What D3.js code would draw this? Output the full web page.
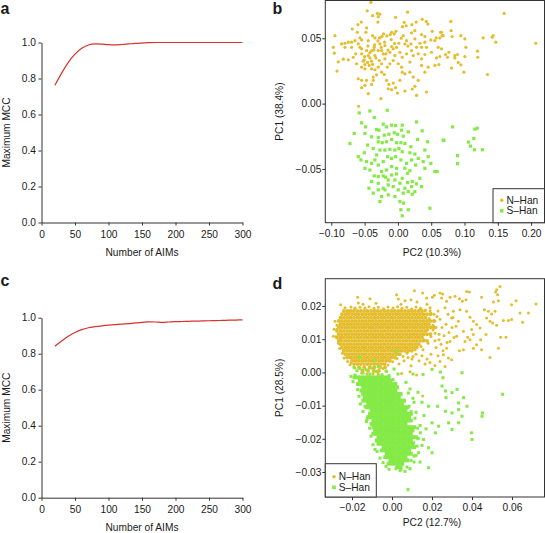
<!DOCTYPE html>
<html><head><meta charset="utf-8">
<script src="https://cdn.jsdelivr.net/npm/d3@7"></script>
<style>
body{margin:0;background:#fff}
svg{display:block}
text{font-family:"Liberation Sans",Arial,Helvetica,sans-serif;fill:#1a1a1a}
</style>
</head><body>
<svg id="c" width="545" height="533"></svg>
<script>
// ---------------- DATA ----------------
const groups = ["N\u2013Han", "S\u2013Han"];
const mccAims = [20,30,40,50,60,70,80,90,100,110,120,130,140,150,160,170,180,190,200,210,220,230,240,250,260,270,280,290,300];
const mccA = [.762,.83,.89,.935,.968,.986,.992,.991,.988,.987,.989,.992,.995,.997,.999,1,1,1,1,1,1,1,1,1,1,1,1,1,1];
const mccC = [.841,.87,.897,.918,.934,.944,.95,.955,.959,.962,.964,.967,.971,.974,.977,.976,.974,.976,.978,.979,.98,.981,.982,.983,.984,.985,.986,.987,.988];
const mccTicksX = [0,50,100,150,200,250,300];
const mccTicksY = [0,0.2,0.4,0.6,0.8,1.0];

const bTicksX = [-0.10,-0.05,0.00,0.05,0.10,0.15,0.20];
const bTicksY = [-0.05,0.00,0.05];
const dTicksX = [-0.02,0.00,0.02,0.04,0.06];
const dTicksY = [-0.03,-0.02,-0.01,0.00,0.01,0.02];

// panel b: [PC2, PC1]
const bNHan = [
[-.046,.071],[-.031,.069],[-.027,.0685],[-.0295,.0665],[-.038,.0673],[-.0035,.066],[.0145,.070],[-.030,.0624],[-.055,.0624],[-.060,.0604],[-.0685,.0571],[-.047,.0579],[-.061,.0546],[-.048,.0546],[.0095,.0622],[.0125,.0596],[.007,.0589],[.021,.0604],[.0275,.0624],[.0365,.0645],[.0425,.0629],[.045,.0609],[.0515,.0553],[.064,.0546],[.0665,.052],[.0575,.0503],[.0355,.0528],[.0405,.0513],[.0205,.0541],[.0255,.0558],[-.003,.0553],[-.0095,.0546],[-.0055,.0533],[-.0115,.0528],[-.0165,.0518],[-.0215,.0533],[-.024,.0513],[-.0275,.0503],[-.0345,.0503],[-.038,.052],[-.0445,.0482],[-.0545,.0487],[-.057,.0503],[-.0645,.0482],[-.0695,.047],[-.0745,.047],[-.0795,.0462],[-.0845,.0457],[-.0945,.052],[-.097,.0431],[-.0955,.0386],[-.0895,.032],[-.0915,.0249],[-.082,.034],[-.0745,.0335],[-.0795,.0431],[-.0695,.0431],[-.0595,.0457],[-.057,.0431],[-.0635,.0381],[-.067,.0355],[-.0545,.0381],[-.0505,.0335],[-.0455,.0315],[-.0395,.0325],[-.042,.035],[-.0345,.0368],[-.0295,.0406],[-.0355,.0431],[-.027,.0457],[-.0195,.0444],[-.0095,.0437],[-.002,.0431],[.0015,.0462],[.0105,.0457],[.013,.0482],[.0195,.0457],[.0255,.0495],[.033,.0462],[.0405,.047],[.0495,.0487],[.0555,.0482],[.0605,.0431],[.0505,.0393],[.0405,.0376],[.0355,.0343],[.0305,.0381],[.023,.0368],[.013,.0381],[.0065,.0355],[-.0045,.0368],[-.007,.033],[-.012,.0305],[-.0195,.0343],[-.0245,.0305],[-.0295,.0279],[-.0245,.0241],[-.0205,.0223],[-.0345,.0259],[-.0395,.0266],[-.0495,.0266],[-.0545,.0279],[-.062,.0305],[-.0595,.019],[-.0545,.0178],[-.047,.0178],[-.037,.0178],[-.0395,.0147],[-.0495,.014],[-.0545,.0122],[-.0445,.0076],[-.037,.0203],[-.017,.0178],[-.0135,.0147],[-.007,.0157],[-.0035,.0122],[.003,.0178],[.0065,.0241],[.0105,.0228],[.018,.0241],[.023,.0203],[.0305,.0178],[.0255,.0132],[.0215,.0112],[.0105,.0096],[-.0005,.0081],[-.0095,.0107],[-.0145,.0114],[-.0255,.0038],[.028,.0063],[.043,.0089],[.0405,.0241],[.0455,.0279],[.0555,.0292],[.063,.036],[.0655,.0419],[.0355,.0292],[.018,.0318],[.0055,.0279],[.0005,.0305],[-.0545,.0419],[-.047,.0406],[-.0395,.0406],[-.0445,.0368],[-.052,.0325],[-.0495,.0299],[-.043,.0292],[-.0245,.0406],[-.018,.0381],[-.012,.0393],[-.007,.0419],[.003,.0393],[.0205,.0406],[.028,.0431],[.0355,.0431],[.043,.0431],
[-.035,.045],[-.03,.048],[-.025,.043],[-.042,.039],[-.033,.035],[-.028,.033],[-.038,.030],[-.02,.047],[-.015,.041],[-.01,.049],[-.005,.046],[.005,.05],[-.045,.044],[-.05,.036],[-.016,.028],[-.032,.022],[.015,.044],[.008,.052],[-.022,.038],[-.036,.041],
[.0795,.0629],[.080,.0558],[.0655,.0546],[.068,.052],[.063,.0503],[.0815,.0513],[.0945,.052],[.1005,.0495],[.128,.0503],[.1415,.0508],[.143,.052],[.147,.047],[.1595,.069],[.207,.0462],[.102,.0431],[.1195,.0401],[.12,.0355],[.1005,.036],[.0855,.0368],[.0895,.0376],[.0765,.0393],[.0715,.0376],[.0745,.0355],[.0855,.035],[.058,.035],[.0615,.0299],[.0905,.0315],[.0945,.0297],[.0805,.0272],[.099,.0241],[.1345,.0223],
[-.059,-.002],[-.0405,.0774]
];
const bSHan = [
[-.058,-.0071],[-.042,-.0056],[-.016,-.0051],[-.0355,-.0107],[-.0545,-.0147],[-.0485,-.0178],[-.032,-.0198],[-.0285,-.0203],[-.022,-.0157],[-.017,-.0178],[-.0095,-.0165],[-.0035,-.0168],[.0065,-.0165],[.0055,-.0203],[.028,-.014],[.0365,-.0208],[-.0655,-.0228],[-.0495,-.0228],[-.0395,-.0254],[-.0295,-.0259],[-.0205,-.0241],[-.0135,-.0234],[-.0055,-.0223],[-.0005,-.0234],[.008,-.0249],[.0155,-.0216],[-.072,-.0305],[-.0455,-.0317],[-.0295,-.0292],[-.0235,-.0299],[-.017,-.0292],[-.0095,-.0274],[-.002,-.0299],[.0045,-.0299],[.0105,-.0305],[.0195,-.033],[.0295,-.0274],[.0445,-.0292],[.068,-.0279],[-.0595,-.0406],[-.0505,-.0376],[-.0555,-.0431],[-.037,-.0343],[-.027,-.0355],[-.0195,-.0355],[-.012,-.035],[-.0045,-.0355],[.0015,-.0343],[.0065,-.0368],[.018,-.0376],[.0255,-.0386],[.0305,-.0419],[.038,-.0444],[.0495,-.0457],[.0405,-.0495],[.0555,-.052],[-.0495,-.0495],[-.042,-.0508],[-.0345,-.0431],[-.0295,-.047],[-.022,-.0444],[-.0155,-.0406],[-.0095,-.0419],[-.0035,-.0406],[.0045,-.0431],[.013,-.0457],[.0205,-.0431],[.0265,-.047],[-.0355,-.0553],[-.0295,-.0558],[-.022,-.0553],[-.0185,-.0563],[-.0095,-.0546],[-.002,-.0538],[.0065,-.0571],[.0145,-.0533],[.0215,-.0596],[.028,-.0614],[.0205,-.0635],[.0155,-.0673],[.008,-.0685],[.0005,-.066],[-.007,-.0635],[-.0145,-.0622],[-.022,-.0647],[-.0295,-.0609],[-.0395,-.0596],[-.0435,-.0647],[-.037,-.0685],[-.0245,-.0711],[-.0145,-.0698],[-.0045,-.0711],[.003,-.0749],[.0085,-.0761],[.0045,-.0812],[.0155,-.0812],[.0065,-.0858],[.048,-.080],[-.027,-.0749],[.0215,-.0693],[.0255,-.0673],[.0145,-.0604],[-.0095,-.0482],[-.002,-.0495],[-.017,-.0508],[-.0245,-.052],[.0105,-.0495],[.018,-.0513],[.033,-.0571],[.0355,-.0635],[-.032,-.0393],[-.0395,-.0457],[-.047,-.0444],[-.0045,-.0584],[.003,-.0609],[-.0145,-.0584],[-.0195,-.066],[-.0295,-.066],[.0105,-.0647],[.0405,-.0355],[.0455,-.0406],
[.082,-.0178],[.069,-.0282],[.1155,-.0195],[.119,-.0188],[.114,-.0266],[.106,-.0294],[.109,-.0325],[.115,-.0353],[.127,-.0353],[.0895,-.0398],[.0895,-.0459],[.059,-.052]
];

// panel d: dense cores as rows [PC1, [PC2 ...]], plus scattered points [PC2, PC1]
const dNHanRows = [
[.0185,[-.0241,-.0224,-.0207,-.0191,-.0173,-.0156,-.0139,-.0123,-.0105,-.0088,-.0071,-.0055,-.0037,-.002,-.0003,.0014,.0031,.0047,.0065,.0082,.0099,.0115,.0133,.015]],
[.0175,[-.025,-.0233,-.0216,-.0199,-.0182,-.0166,-.0148,-.0131,-.0114,-.0097,-.0081,-.0063,-.0046,-.0029,-.0012,.0005,.0022,.0039,.0056,.0073,.009,.0107,.0124,.0141,.0158,.0175,.0192]],
[.0165,[-.0258,-.0241,-.0224,-.0207,-.019,-.0173,-.0156,-.0139,-.0122,-.0105,-.0088,-.0071,-.0054,-.0037,-.002,-.0003,.0014,.0031,.0048,.0065,.0082,.0099,.0116,.0133,.015,.0167]],
[.0155,[-.0266,-.025,-.0233,-.0216,-.0199,-.0182,-.0165,-.0148,-.0131,-.0114,-.0097,-.008,-.0063,-.0046,-.0029,-.0012,.0005,.0022,.0039,.0056,.0073,.009,.0107,.0124,.0141,.0158,.0175,.0192,.0209]],
[.0145,[-.0258,-.0241,-.0224,-.0207,-.019,-.0173,-.0156,-.0139,-.0122,-.0105,-.0088,-.0071,-.0054,-.0037,-.002,-.0003,.0014,.0031,.0048,.0065,.0082,.0099,.0116,.0133,.015,.0167,.0184]],
[.0135,[-.0266,-.025,-.0233,-.0216,-.0199,-.0182,-.0165,-.0148,-.0131,-.0114,-.0097,-.008,-.0063,-.0046,-.0029,-.0012,.0005,.0022,.0039,.0056,.0073,.009,.0107,.0124,.0141,.0158,.0175,.0192,.0209]],
[.0125,[-.0275,-.0258,-.0241,-.0224,-.0207,-.019,-.0173,-.0156,-.0139,-.0122,-.0105,-.0088,-.0071,-.0054,-.0037,-.002,-.0003,.0014,.0031,.0048,.0065,.0082,.0099,.0116,.0133,.015,.0167]],
[.0115,[-.0266,-.025,-.0233,-.0216,-.0199,-.0182,-.0165,-.0148,-.0131,-.0114,-.0097,-.008,-.0063,-.0046,-.0029,-.0012,.0005,.0022,.0039,.0056,.0073,.009,.0107,.0124,.0141,.0158,.0175,.0192]],
[.0105,[-.0275,-.0258,-.0241,-.0224,-.0207,-.019,-.0173,-.0156,-.0139,-.0122,-.0105,-.0088,-.0071,-.0054,-.0037,-.002,-.0003,.0014,.0031,.0048,.0065,.0082,.0099,.0116,.0133,.015]],
[.0095,[-.0266,-.025,-.0233,-.0216,-.0199,-.0182,-.0165,-.0148,-.0131,-.0114,-.0097,-.008,-.0063,-.0046,-.0029,-.0012,.0005,.0022,.0039,.0056,.0073,.009,.0107,.0124,.0141,.0158,.0175]],
[.0085,[-.0258,-.0241,-.0224,-.0207,-.019,-.0173,-.0156,-.0139,-.0122,-.0105,-.0088,-.0071,-.0054,-.0037,-.002,-.0003,.0014,.0031,.0048,.0065,.0082,.0099,.0116,.0133]],
[.0075,[-.025,-.0233,-.0216,-.0199,-.0182,-.0165,-.0148,-.0131,-.0114,-.0097,-.008,-.0063,-.0046,-.0029,-.0012,.0005,.0022,.0039,.0056,.0073,.009,.0107,.0124]],
[.0065,[-.0241,-.0224,-.0207,-.019,-.0173,-.0156,-.0139,-.0122,-.0105,-.0088,-.0071,-.0054,-.0037,-.002,-.0003,.0014,.0031,.0048,.0065,.0082,.0099]],
[.0055,[-.0233,-.0216,-.0199,-.0182,-.0165,-.0148,-.0131,-.0114,-.0097,-.008,-.0063,-.0046,-.0029,-.0012,.0005,.0022,.0039]],
[.0045,[-.0224,-.0207,-.019,-.0173,-.0156,-.0139,-.0122,-.0105,-.0088,-.0071,-.0054,-.0037,-.002,-.0003,.0014]],
[.0035,[-.0199,-.0182,-.0165,-.0148,-.0131,-.0114,-.0097,-.008,-.0063,-.0046,-.0029,-.0012]],
[.0025,[-.019,-.0173,-.0156,-.0139,-.0122,-.0105,-.0088,-.0071,-.0054,-.0037]],
[.0015,[-.0165,-.0139,-.0112,-.0088,-.006,-.0035]],
[.0005,[-.0148,-.012,-.0092,-.0066]]
];
const dNHanPts = [
[-.0235,.0195],[-.0205,.0197],[-.0185,.0193],[-.016,.0196],[-.0135,.0194],[-.0115,.0198],[-.009,.0193],[-.0068,.0196],[-.0042,.0192],[-.002,.0197],[.0005,.0194],[.0028,.0198],[.005,.0193],[.0074,.0196],[.0098,.0191],[.012,.0197],[.0143,.0193],[.0168,.0188],[.019,.0186],
[-.0257,.0204],[-.0172,.0226],[-.0168,.0209],[-.011,.0222],[.0023,.0234],[.0032,.0221],[.0112,.0246],[.0153,.0239],[.0095,.0219],[.0065,.0216],[.0173,.0224],[.0202,.0226],[-.0185,.0194],[-.0218,.0184],[-.0285,.0154],[-.0277,.0129],[-.0293,.0109],[-.026,.0098],[-.029,.013],[-.028,.0107],[-.0145,.0205],[-.008,.0208],[.0045,.0205],[.0125,.0212],[.0175,.0205],[-.0275,.0142],[-.0268,.0088],[-.0262,.0072],[-.0248,.0058],[-.024,.0043],[-.0222,.0033],[-.0205,.0028],
[-.0152,-.0002],[-.0118,-.0012],[-.0068,-.0007],[-.0027,.0003],[-.0185,.0013],[-.021,.0023],[.0048,-.0003],[.009,.0002],[.0123,-.0008],[.0153,-.0071],[-.0125,-.0005],[-.0095,-.0004],[-.007,-.0002],[-.0045,.0012],[-.002,.0022],[.0003,.0032],[.0025,.0042],[.0055,.0048],[.0034,.0055],
[.0165,.0185],[.0185,.0162],[.0178,.0128],[.0195,.0108],[.016,.0098],[.018,.0088],[.0145,.0078],[.0155,.0068],[.0115,.0068],[.0075,.0058],[.0105,.0048],[.0205,.0142],[.0215,.0118],[.0235,.0098],[.0225,.0168],[.0195,.0178],[.014,.019],[.0205,.0128],
[.019,.0195],[.021,.0175],[.023,.0185],[.0215,.0155],[.024,.016],[.022,.0135],[.025,.0135],[.0235,.0115],[.026,.011],[.0215,.0095],[.0245,.0085],[.022,.0075],[.0255,.0065],[.0195,.0055],[.023,.005],[.027,.0145],[.028,.0175],[.0265,.0195],[.0285,.012],[.03,.0135],[.0305,.0165],[.0275,.009],[.031,.0105],[.0175,.004],[.015,.005],[.012,.0055],[.0135,.0035],[.01,.004],[.0165,.0025],[.008,.0045],[.006,.0035],[.0035,.0025],[.0095,.002],[.019,.003],
[.0212,.0232],[.024,.0239],[.0253,.0236],[.0248,.0224],[.0273,.0214],[.029,.0226],[.0315,.0229],[.0337,.0222],[.0352,.0214],[.037,.0219],[.0387,.0242],[.0373,.0244],[.0448,.0226],[.0507,.0212],[.0518,.0242],[.054,.0259],[.0523,.0249],[.0528,.0234],[.0532,.0216],[.0598,.0204],[.062,.0216],[.0682,.0179],[.064,.0179],[.072,.0206],[.0462,.0189],[.0482,.0184],[.0498,.0176],[.0515,.0184],[.0473,.0164],[.049,.0154],[.0503,.0149],[.0523,.0142],[.0557,.0156],[.0582,.0156],[.0598,.0159],[.0653,.0151],[.0543,.0106],[.057,.0106],[.0532,.0073],[.049,.0045],[.047,.0114],[.0443,.0098],[.0407,.0114],[.0423,.0083],[.0448,.0068],[.0378,.0106],[.039,.0098],[.0407,.0073],[.0357,.0068],[.0337,.0065],[.0365,.0093],[.032,.0139],[.0332,.0154],[.0298,.0164],[.0307,.0184],[.034,.0189],[.0373,.0184],[.039,.0166],[.0407,.0154],[.0423,.0144],[.044,.0134],[.0398,.0129],[.0357,.0124],[.0323,.0109],[.029,.0093],[.0273,.0073],[.0257,.0053],[.0282,.0043],[.0298,.0038],[.024,.0033],[.0215,.0021],[.0265,.0018]
];
const dSHanRows = [
[-.0015,[-.0187,-.017,-.0153,-.0136,-.0119,-.0102,-.0085,-.0068,-.0051,-.0034,-.0017]],
[-.0025,[-.0161,-.0144,-.0127,-.011,-.0093,-.0076,-.0059,-.0042,-.0025,-.0008]],
[-.0035,[-.017,-.0153,-.0136,-.0119,-.0102,-.0085,-.0068,-.0051,-.0034,-.0017,0,.0017]],
[-.0045,[-.0144,-.0127,-.011,-.0093,-.0076,-.0059,-.0042,-.0025,-.0008,.0009,.0026]],
[-.0055,[-.0153,-.0136,-.0119,-.0102,-.0085,-.0068,-.0051,-.0034,-.0017,0,.0017]],
[-.0065,[-.0144,-.0127,-.011,-.0093,-.0076,-.0059,-.0042,-.0025,-.0008,.0009,.0026,.0043]],
[-.0075,[-.0136,-.0119,-.0102,-.0085,-.0068,-.0051,-.0034,-.0017,0,.0017,.0034]],
[-.0085,[-.0144,-.0127,-.011,-.0093,-.0076,-.0059,-.0042,-.0025,-.0008,.0009,.0026,.0043,.006]],
[-.0095,[-.0119,-.0102,-.0085,-.0068,-.0051,-.0034,-.0017,0,.0017,.0034,.0051]],
[-.0105,[-.0127,-.011,-.0093,-.0076,-.0059,-.0042,-.0025,-.0008,.0009,.0026,.0043,.006,.0077]],
[-.0115,[-.0102,-.0085,-.0068,-.0051,-.0034,-.0017,0,.0017,.0034,.0051,.0068]],
[-.0125,[-.011,-.0093,-.0076,-.0059,-.0042,-.0025,-.0008,.0009,.0026,.0043,.006,.0077,.0094]],
[-.0135,[-.0119,-.0102,-.0085,-.0068,-.0051,-.0034,-.0017,0,.0017,.0034,.0051,.0068,.0085]],
[-.0145,[-.0093,-.0076,-.0059,-.0042,-.0025,-.0008,.0009,.0026,.0043,.006,.0077,.0094]],
[-.0155,[-.0102,-.0085,-.0068,-.0051,-.0034,-.0017,0,.0017,.0034,.0051,.0068]],
[-.0165,[-.0093,-.0076,-.0059,-.0042,-.0025,-.0008,.0009,.0026,.0043,.006,.0077,.0094,.0111]],
[-.0175,[-.0085,-.0068,-.0051,-.0034,-.0017,0,.0017,.0034,.0051,.0068,.0085,.0102]],
[-.0185,[-.0093,-.0076,-.0059,-.0042,-.0025,-.0008,.0009,.0026,.0043,.006,.0077,.0094]],
[-.0195,[-.0068,-.0051,-.0034,-.0017,0,.0017,.0034,.0051,.0068,.0085,.0102,.0119]],
[-.0205,[-.0076,-.0059,-.0042,-.0025,-.0008,.0009,.0026,.0043,.006,.0077,.0094]],
[-.0215,[-.0068,-.0051,-.0034,-.0017,0,.0017,.0034,.0051,.0068,.0085,.0102]],
[-.0225,[-.0042,-.0025,-.0008,.0009,.0026,.0043,.006,.0077,.0094,.0111]],
[-.0235,[-.0051,-.0034,-.0017,0,.0017,.0034,.0051,.0068,.0085]],
[-.0245,[-.0025,-.0008,.0009,.0026,.0043,.006,.0077,.0094]],
[-.0255,[-.0034,-.0017,0,.0017,.0034,.0051,.0068]],
[-.0265,[-.0008,.0009,.0026,.0043,.006,.0077]],
[-.0275,[-.0017,0,.0017,.0034,.0051]],
[-.0285,[.0026,.0043]]
];
const dSHanPts = [
[-.019,.0015],[-.0175,.0005],[-.016,.0012],[-.0145,-.0002],[-.0185,-.0008],[-.013,.0008],[-.011,-.0005],[-.008,.0003],[-.005,-.0007],[-.003,.0004],[-.0015,-.001],[.001,.001],[.003,-.0005],[-.0163,.0046],[-.0088,.0035],[.002,.0063],[-.0102,.0013],[-.0068,.0018],[-.0205,-.0012],[-.0195,-.0028],[.0005,-.0022],
[-.0172,-.0052],[-.0165,-.0072],[-.0158,-.0095],[-.0145,-.0118],[-.0135,-.0102],[-.0128,-.0148],[-.0125,-.0142],[-.0112,-.0168],[-.0105,-.0192],[-.0095,-.0218],[-.0085,-.0232],[-.0075,-.0238],[-.006,-.0258],[-.0045,-.0272],[-.003,-.0283],[-.0015,-.0292],
[.0105,-.0078],[.0085,-.0102],[.0115,-.0138],[.0128,-.0168],[.013,-.0198],[.0125,-.0222],[.011,-.0252],[.0095,-.0265],[.0075,-.0285],[.0045,-.0292],[.0065,-.0155],[.0082,-.0062],[.0095,-.0118],[.0108,-.0212],[.0085,-.0238],
[.013,-.006],[.015,-.009],[.012,-.012],[.016,-.013],[.014,-.016],[.017,-.017],[.013,-.02],[.015,-.022],[.012,-.025],[.011,-.027],[.014,-.027],[.009,-.029],[.004,-.0295],[.002,-.029],[.0065,-.0298],[.0105,-.0005],[.007,-.003],[.009,-.005],[.011,-.009],
[.0155,-.0006],[.020,.0009],[.0242,.0001],[.0255,-.0016],[.035,-.0001],[.025,-.0041],[.0267,-.0056],[.030,-.0061],[.0325,-.0051],[.0358,-.0076],[.027,-.0076],[.0228,-.0102],[.0267,-.0117],[.030,-.0122],[.0333,-.0112],[.0375,-.0102],[.0283,-.0152],[.030,-.0172],[.0333,-.0152],[.035,-.0132],[.0397,-.0182],[.040,-.0202],[.0453,-.0122],[.045,-.0132],[.0553,-.0066],[.0183,-.0287],[.008,-.0353],[.0333,-.0092],[.0183,-.0102],[.020,-.0152],[.0233,-.0162],[.0142,-.0182],[.0158,-.0202],[.0183,-.0227],[.020,-.0242],[.0133,-.0242],[.0217,-.0182]
];

// ---------------- STYLE ----------------
const C_N = "#E5BD2C", C_S = "#84EA46", C_LINE = "#D8322C", AXC = "#333";
const FS = 10.2;
const svg = d3.select("#c");

function styleAxis(g){
  g.attr("font-size", FS).attr("color", AXC);
  g.selectAll("path,line").attr("stroke-width", 1);
}

// ---------------- LINE PANELS (a, c) ----------------
function linePanel(dy, values, letter, letterY){
  const g = svg.append("g");
  const x = d3.scaleLinear().domain([0,300]).range([41.5,242.5]);
  const y = d3.scaleLinear().domain([0,1]).range([222.5+dy,42.5+dy]);
  g.append("g").attr("transform",`translate(0,${y(0)})`)
    .call(d3.axisBottom(x).tickValues(mccTicksX).tickFormat(d3.format("d")).tickSize(3).tickSizeOuter(0).tickPadding(5))
    .call(styleAxis);
  g.append("g").attr("transform",`translate(${x(0)},0)`)
    .call(d3.axisLeft(y).tickValues(mccTicksY).tickFormat(d3.format(".1f")).tickSize(3).tickSizeOuter(0).tickPadding(2.5))
    .call(styleAxis);
  const line = d3.line().x((d,i)=>x(mccAims[i])).y(d=>y(d)).curve(d3.curveMonotoneX);
  g.append("path").datum(values).attr("d", line).attr("fill","none")
    .attr("stroke", C_LINE).attr("stroke-width", 1.2);
  g.append("text").attr("x",142).attr("y",256+dy).attr("text-anchor","middle")
    .attr("font-size",FS).text("Number of AIMs");
  g.append("text").attr("transform",`translate(9.5,${132.5+dy}) rotate(-90)`)
    .attr("text-anchor","middle").attr("font-size",FS).text("Maximum MCC");
  svg.append("text").attr("x",0.5).attr("y",letterY).attr("font-size",16)
    .attr("font-weight","bold").text(letter);
}
linePanel(0, mccA, "a", 13.5);
linePanel(275.2, mccC, "c", 286);

// ---------------- SCATTER PANELS (b, d) ----------------
function scatterPanel(cfg){
  const g = svg.append("g");
  const x = d3.scaleLinear().domain(cfg.xd).range([325.3,544.5]);
  const y = d3.scaleLinear().domain(cfg.yd).range([cfg.bottom,cfg.top]);
  const fmt = d3.format(".2f");
  g.append("g").attr("transform",`translate(0,${cfg.bottom})`)
    .call(d3.axisBottom(x).tickValues(cfg.xt).tickFormat(fmt).tickSize(3).tickSizeOuter(0).tickPadding(4))
    .call(styleAxis).call(a=>a.select(".domain").remove());
  g.append("g").attr("transform",`translate(325.3,0)`)
    .call(d3.axisLeft(y).tickValues(cfg.yt).tickFormat(fmt).tickSize(3).tickSizeOuter(0).tickPadding(1))
    .call(styleAxis).call(a=>a.select(".domain").remove());
  // dense cores (heavily overlapping points) then scattered points
  g.append("g").selectAll("circle").data(cfg.nhDense).join("circle")
    .attr("cx",d=>x(d[0])).attr("cy",d=>y(d[1])).attr("r",cfg.rd).attr("fill",C_N);
  g.append("g").selectAll("circle").data(cfg.nh).join("circle")
    .attr("cx",d=>x(d[0])).attr("cy",d=>y(d[1])).attr("r",cfg.r).attr("fill",C_N);
  const sd = cfg.rd*2, s = cfg.r*2;
  g.append("g").selectAll("rect").data(cfg.shDense).join("rect")
    .attr("x",d=>x(d[0])-sd/2).attr("y",d=>y(d[1])-sd/2).attr("width",sd).attr("height",sd).attr("fill",C_S);
  g.append("g").selectAll("rect").data(cfg.sh).join("rect")
    .attr("x",d=>x(d[0])-s/2).attr("y",d=>y(d[1])-s/2).attr("width",s).attr("height",s).attr("fill",C_S);
  g.append("rect").attr("x",325.3).attr("y",cfg.top).attr("width",544.5-325.3).attr("height",cfg.bottom-cfg.top)
    .attr("fill","none").attr("stroke",AXC).attr("stroke-width",1);
  // legend
  const L = cfg.legend;
  g.append("rect").attr("x",L.x).attr("y",L.y).attr("width",L.w).attr("height",L.h)
    .attr("fill","#fff").attr("stroke",AXC).attr("stroke-width",1);
  groups.forEach((name,i)=>{
    const cy = L.y + L.first + i*10.6;
    if(i===0) g.append("circle").attr("cx",L.x+L.mx).attr("cy",cy).attr("r",1.8).attr("fill",C_N);
    else g.append("rect").attr("x",L.x+L.mx-1.8).attr("y",cy-1.8).attr("width",3.6).attr("height",3.6).attr("fill",C_S);
    g.append("text").attr("x",L.x+L.mx+4.8).attr("y",cy).attr("dy","0.36em").attr("font-size",FS).text(name);
  });
  g.append("text").attr("x",432).attr("y",cfg.xlabY).attr("text-anchor","middle").attr("font-size",FS).text(cfg.xlab);
  g.append("text").attr("transform",`translate(282.5,${(cfg.top+cfg.bottom)/2}) rotate(-90)`)
    .attr("text-anchor","middle").attr("font-size",FS).text(cfg.ylab);
  svg.append("text").attr("x",272.5).attr("y",cfg.letterY).attr("font-size",16)
    .attr("font-weight","bold").text(cfg.letter);
}

scatterPanel({
  xd:[-0.109,0.2201], yd:[-0.0911,0.0789], top:0.5, bottom:222.7,
  xt:bTicksX, yt:bTicksY, nhDense:[], shDense:[], nh:bNHan, sh:bSHan, r:1.6, rd:1.6,
  legend:{x:493,y:188.7,w:51.5,h:34,first:11.5,mx:8.7},
  xlab:"PC2 (10.3%)", ylab:"PC1 (38.4%)", xlabY:255.5, letter:"b", letterY:13.5
});
const flat = rows => rows.flatMap(([pc1, xs]) => xs.map(pc2 => [pc2, pc1]));
scatterPanel({
  xd:[-0.03335,0.07625], yd:[-0.03753,0.02822], top:278.7, bottom:497,
  xt:dTicksX, yt:dTicksY, nhDense:flat(dNHanRows), shDense:flat(dSHanRows), nh:dNHanPts, sh:dSHanPts, r:1.5, rd:1.95,
  legend:{x:325.3,y:463.7,w:51,h:33.3,first:13,mx:8.7},
  xlab:"PC2 (12.7%)", ylab:"PC1 (28.5%)", xlabY:526, letter:"d", letterY:289
});
</script>
</body></html>
